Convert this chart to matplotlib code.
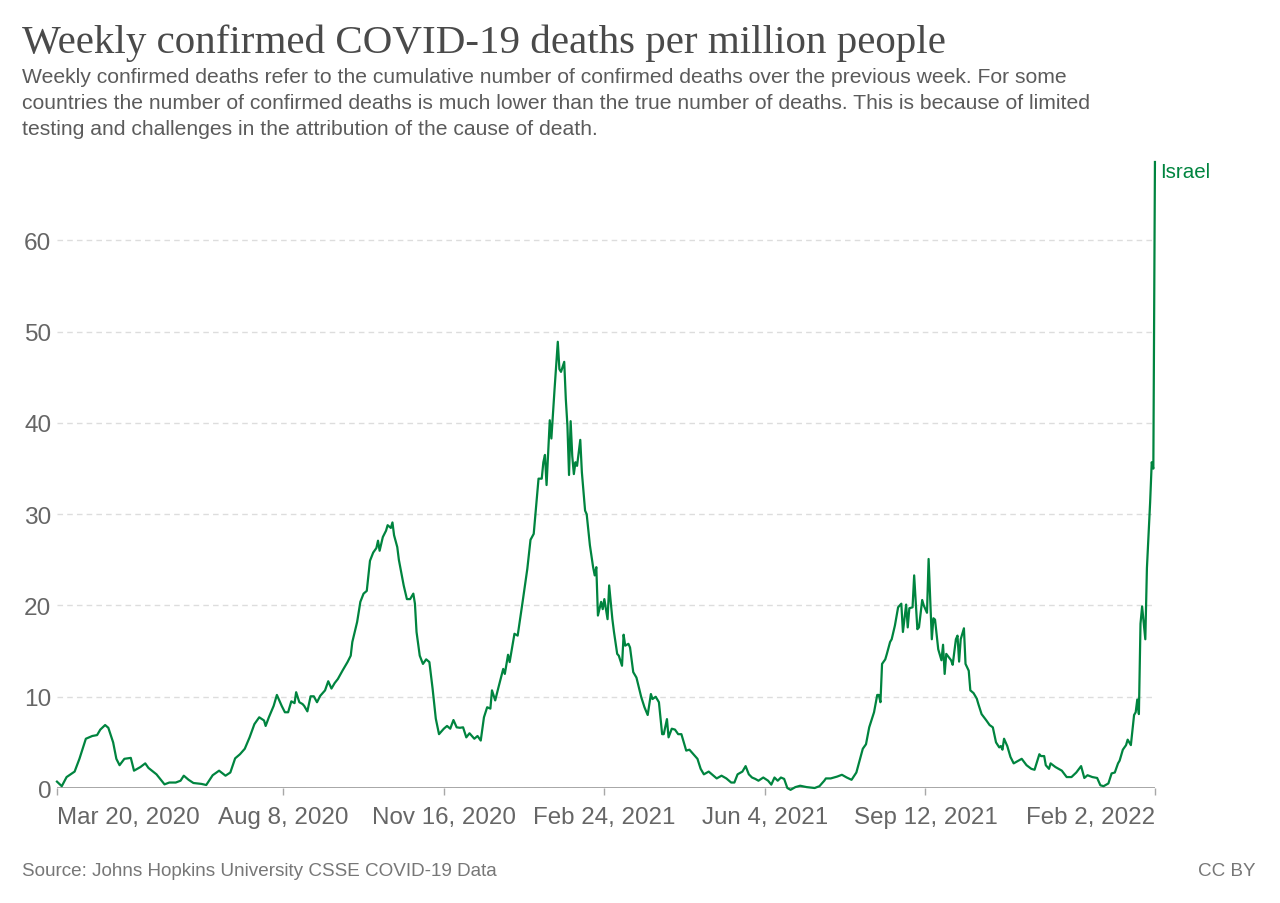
import matplotlib
matplotlib.use("Agg")
from matplotlib import pyplot as plt
import numpy as np
import pandas as pd

plt.rcParams["font.family"] = ["Liberation Sans", "DejaVu Sans"]

start = pd.Timestamp("2020-03-20")

# days after Mar 20, 2020 and the weekly deaths per million read at those days
day_offset = [
    0, 3, 6, 11, 14, 18, 22, 25, 27, 30, 32, 35, 37, 39, 42, 46, 48, 52, 55, 57,
    62, 67, 70, 74, 77, 79, 82, 85, 90, 93, 97, 101, 105, 108, 111, 114, 117, 120, 123, 126,
    129, 130, 132, 135, 137, 140, 142, 144, 146, 148, 149, 151, 153, 154, 156, 158, 160, 162, 164, 167,
    169, 171, 173, 175, 178, 181, 183, 184, 187, 189, 191, 193, 195, 197, 199, 200, 201, 203, 205, 206,
    208, 209, 210, 212, 213, 216, 218, 220, 222, 223, 224, 226, 228, 230, 232, 234, 236, 238, 241, 243,
    245, 247, 249, 251, 253, 255, 257, 260, 262, 264, 266, 268, 270, 271, 273, 275, 278, 279, 281, 282,
    285, 287, 290, 293, 295, 297, 300, 302, 303, 304, 305, 307, 308, 310, 312, 313, 314, 316, 317, 318,
    319, 320, 321, 322, 323, 324, 326, 327, 329, 330, 332, 334, 335, 336, 337, 339, 340, 341, 343, 344,
    346, 347, 349, 350, 352, 353, 354, 356, 357, 359, 361, 364, 366, 368, 370, 371, 373, 375, 377, 378,
    380, 381, 383, 385, 387, 389, 392, 394, 397, 399, 401, 403, 406, 409, 411, 414, 417, 420, 422, 424,
    427, 429, 431, 433, 435, 437, 440, 443, 445, 447, 449, 451, 453, 455, 457, 460, 463, 467, 472, 475,
    478, 479, 482, 486, 489, 492, 495, 498, 500, 502, 504, 506, 509, 511, 512, 513, 514, 516, 517, 519,
    520, 522, 524, 526, 527, 529, 530, 531, 533, 534, 536, 537, 539, 540, 542, 543, 545, 546, 547, 549,
    551, 552, 553, 554, 557, 558, 560, 561, 562, 563, 565, 566, 568, 569, 571, 573, 574, 576, 579, 581,
    583, 585, 587, 588, 589, 590, 592, 594, 596, 598, 601, 604, 607, 609, 612, 613, 615, 616, 618, 619,
    622, 626, 629, 632, 635, 638, 640, 642, 645, 648, 650, 652, 655, 657, 659, 661, 662, 664, 666, 667,
    669, 671, 672, 673, 674, 675, 676, 678, 679, 681, 682, 683, 684,
]
deaths = [
    0.7, 0.2, 1.2, 1.8, 3.2, 5.4, 5.7, 5.8, 6.4, 6.9, 6.6, 5.0, 3.2, 2.5, 3.2, 3.3, 1.9, 2.3, 2.7, 2.2,
    1.5, 0.4, 0.6, 0.6, 0.8, 1.35, 0.9, 0.55, 0.45, 0.33, 1.4, 1.9, 1.35, 1.7, 3.25, 3.7, 4.3, 5.55, 7.0, 7.75,
    7.4, 6.8, 7.75, 9.0, 10.2, 9.0, 8.3, 8.3, 9.5, 9.3, 10.5, 9.4, 9.2, 9.0, 8.4, 10.05, 10.05, 9.4, 10.1, 10.7,
    11.7, 10.9, 11.5, 11.95, 12.9, 13.8, 14.5, 16.0, 18.2, 20.4, 21.3, 21.6, 24.9, 25.8, 26.3, 27.1, 26.0, 27.5, 28.2, 28.8,
    28.5, 29.1, 27.7, 26.4, 25.0, 22.2, 20.7, 20.7, 21.3, 20.2, 17.1, 14.5, 13.6, 14.1, 13.8, 10.9, 7.6, 5.9, 6.5, 6.8,
    6.5, 7.45, 6.65, 6.6, 6.65, 5.55, 6.0, 5.4, 5.7, 5.2, 7.75, 8.85, 8.7, 10.7, 9.6, 11.0, 13.05, 12.5, 14.6, 13.8,
    16.9, 16.7, 20.3, 24.0, 27.2, 27.85, 33.9, 33.9, 35.7, 36.5, 33.2, 40.3, 38.3, 43.75, 48.9, 45.9, 45.6, 46.7, 42.6, 39.7,
    34.3, 40.2, 36.4, 34.4, 35.7, 35.3, 38.15, 34.6, 30.4, 30.0, 26.6, 24.2, 23.3, 24.2, 18.9, 20.4, 19.6, 20.7, 18.5, 22.2,
    18.5, 17.1, 14.7, 14.5, 13.4, 16.8, 15.6, 15.8, 15.4, 12.7, 12.1, 9.95, 8.85, 8.0, 10.3, 9.75, 10.0, 9.4, 5.9, 5.9,
    7.55, 5.55, 6.5, 6.4, 5.9, 5.9, 4.1, 4.2, 3.6, 3.2, 2.1, 1.5, 1.8, 1.35, 1.05, 1.35, 1.05, 0.6, 0.6, 1.5,
    1.8, 2.4, 1.5, 1.15, 1.0, 0.8, 1.15, 0.8, 0.37, 1.15, 0.8, 1.15, 1.0, 0.0, -0.2, 0.1, 0.25, 0.1, 0.0, 0.2,
    0.8, 1.05, 1.05, 1.25, 1.45, 1.15, 0.9, 1.7, 3.0, 4.3, 4.8, 6.65, 8.3, 10.2, 10.2, 9.4, 13.6, 14.1, 14.7, 16.0,
    16.3, 17.8, 19.8, 20.2, 17.1, 20.1, 17.6, 19.7, 19.8, 23.3, 17.4, 17.6, 20.6, 20.0, 19.2, 25.1, 16.3, 18.6, 18.45, 15.2,
    14.0, 15.7, 12.5, 14.7, 14.0, 13.5, 16.3, 16.7, 13.85, 16.3, 17.5, 13.6, 12.85, 10.7, 10.4, 9.8, 9.2, 8.1, 7.4, 6.9,
    6.65, 5.0, 4.45, 4.6, 4.2, 5.4, 4.6, 3.4, 2.7, 2.9, 3.2, 2.5, 2.1, 2.0, 3.7, 3.5, 3.5, 2.5, 2.1, 2.7,
    2.3, 1.9, 1.2, 1.2, 1.7, 2.4, 1.1, 1.4, 1.2, 1.1, 0.3, 0.2, 0.5, 1.6, 1.7, 2.7, 3.0, 4.2, 4.7, 5.3,
    4.7, 8.0, 8.3, 9.7, 8.1, 18.0, 19.9, 16.3, 24.1, 31.3, 35.7, 35.0, 68.6,
]

tick_dates = ["2020-03-20", "2020-08-08", "2020-11-16", "2021-02-24",
              "2021-06-04", "2021-09-12", "2022-02-02"]
tick_labels = ["Mar 20, 2020", "Aug 8, 2020", "Nov 16, 2020", "Feb 24, 2021",
               "Jun 4, 2021", "Sep 12, 2021", "Feb 2, 2022"]
y_ticks = [0, 10, 20, 30, 40, 50, 60]

dates = start + pd.to_timedelta(day_offset, unit="D")
green = "#00843f"

fig = plt.figure(figsize=(12.8, 9.04), dpi=100)
ax = fig.add_axes([0.0445, 0.1272, 0.8578, 0.6925])

ax.plot(dates, deaths, color=green, lw=1.6, clip_on=False, zorder=3)

ax.set_xlim(pd.Timestamp(tick_dates[0]), pd.Timestamp(tick_dates[-1]))
ax.set_ylim(0, max(deaths))

for s in ax.spines.values():
    s.set_visible(False)
ax.axhline(0, color="#a0a0a0", lw=1.3, zorder=2)

ax.set_yticks(y_ticks)
ax.set_yticklabels([str(v) for v in y_ticks])
ax.grid(axis="y", color="#dddddd", ls=(0, (4, 3)), lw=1)
ax.tick_params(axis="y", length=0, pad=4, labelsize=17.6, labelcolor="#666666")

ax.set_xticks(pd.to_datetime(tick_dates))
ax.set_xticklabels(tick_labels)
ax.tick_params(axis="x", length=5, width=1, color="#a8a8a8", pad=8,
               labelsize=17.4, labelcolor="#666666")
xl = ax.get_xticklabels()
xl[0].set_ha("left")
xl[-1].set_ha("right")

ax.text(pd.Timestamp(tick_dates[-1]) + pd.Timedelta(days=3), deaths[-1], "Israel",
        color=green, fontsize=14.8, va="top", ha="left")

fig.text(0.017, 0.952, "Weekly confirmed COVID-19 deaths per million people",
         family="Liberation Serif", fontsize=29.5, color="#4a4a4a", va="center")
fig.text(0.017, 0.925,
         "Weekly confirmed deaths refer to the cumulative number of confirmed deaths over the previous week. For some\n"
         "countries the number of confirmed deaths is much lower than the true number of deaths. This is because of limited\n"
         "testing and challenges in the attribution of the cause of death.",
         fontsize=15.2, color="#5b5b5b", va="top", linespacing=1.48)

fig.text(0.017, 0.036, "Source: Johns Hopkins University CSSE COVID-19 Data",
         fontsize=13.6, color="#777777", va="center")
fig.text(0.981, 0.036, "CC BY", fontsize=13.6, color="#777777", va="center", ha="right")

fig.savefig("out.png", dpi=100)
